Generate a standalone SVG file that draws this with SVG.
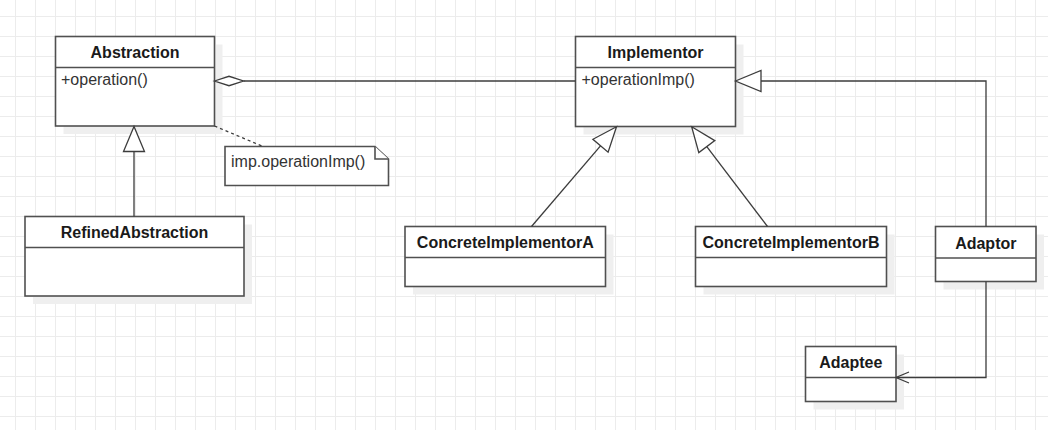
<svg xmlns="http://www.w3.org/2000/svg" width="1048" height="430" viewBox="0 0 1048 430">
<defs>
<pattern id="grid" patternUnits="userSpaceOnUse" x="15" y="16" width="20" height="20">
<path d="M0 0.5 H20 M0.5 0 V20" fill="none" stroke="#ececec" stroke-width="1"/>
</pattern>
<style>
.box{fill:#ffffff;stroke:#505050;stroke-width:1.6}
.shadow{fill:#efefef;stroke:none}
.sep{stroke:#505050;stroke-width:1.6}
.title{font-family:"Liberation Sans",Arial,sans-serif;font-size:16px;font-weight:bold;fill:#1a1a1a;text-anchor:middle}
.member{font-family:"Liberation Sans",Arial,sans-serif;font-size:16px;fill:#333333}
.edge{fill:none;stroke:#3c3c3c;stroke-width:1.3}
.head{fill:#ffffff;stroke:#3c3c3c;stroke-width:1.3}
</style>
</defs>
<rect width="1048" height="430" fill="#ffffff"/>
<rect width="1048" height="430" fill="url(#grid)"/>

<g id="node-abstraction">
<rect class="shadow" x="63.5" y="44.5" width="159" height="89.5"/>
<rect class="box" x="55.5" y="36.5" width="159" height="89.5"/>
<line class="sep" x1="55.5" y1="67.5" x2="214.5" y2="67.5"/>
<text class="title" x="135" y="58">Abstraction</text>
<text class="member" x="61" y="85">+operation()</text>
</g>

<g id="node-implementor">
<rect class="shadow" x="583.5" y="44.5" width="160" height="90"/>
<rect class="box" x="575.5" y="36.5" width="160" height="90"/>
<line class="sep" x1="575.5" y1="67.5" x2="735.5" y2="67.5"/>
<text class="title" x="655.5" y="58">Implementor</text>
<text class="member" x="581.5" y="85">+operationImp()</text>
</g>

<g id="node-refinedabstraction">
<rect class="shadow" x="33" y="224.5" width="219" height="79.5"/>
<rect class="box" x="25" y="216.5" width="219" height="79.5"/>
<line class="sep" x1="25" y1="247.5" x2="244" y2="247.5"/>
<text class="title" x="134.5" y="238">RefinedAbstraction</text>
</g>

<g id="node-concreteimplementora">
<rect class="shadow" x="413" y="234.5" width="200.5" height="60"/>
<rect class="box" x="405" y="226.5" width="200.5" height="60"/>
<line class="sep" x1="405" y1="257.5" x2="605.5" y2="257.5"/>
<text class="title" x="505.3" y="248">ConcreteImplementorA</text>
</g>

<g id="node-concreteimplementorb">
<rect class="shadow" x="703.5" y="234.5" width="191" height="60"/>
<rect class="box" x="695.5" y="226.5" width="191" height="60"/>
<line class="sep" x1="695.5" y1="257.5" x2="886.5" y2="257.5"/>
<text class="title" x="791" y="248">ConcreteImplementorB</text>
</g>

<g id="node-adaptor">
<rect class="shadow" x="943.5" y="234.5" width="100.5" height="55"/>
<rect class="box" x="935.5" y="226.5" width="100.5" height="55"/>
<line class="sep" x1="935.5" y1="258" x2="1036" y2="258"/>
<text class="title" x="985.8" y="248.5">Adaptor</text>
</g>

<g id="node-adaptee">
<rect class="shadow" x="813.5" y="354.5" width="90.5" height="55"/>
<rect class="box" x="805.5" y="346.5" width="90.5" height="55"/>
<line class="sep" x1="805.5" y1="377.5" x2="896" y2="377.5"/>
<text class="title" x="850.8" y="368">Adaptee</text>
</g>

<g id="node-note">
<path class="box" d="M225,146.5 H375 L388.5,159 V185.5 H225 Z"/>
<path class="box" d="M375,146.5 V159 H388.5" fill="none"/>
<text class="member" x="231" y="167">imp.operationImp()</text>
</g>

<g id="connectors">
<line class="edge" x1="243.5" y1="81" x2="575.5" y2="81"/>
<polygon class="head" points="214.5,81 229,76.3 243.5,81 229,85.7"/>

<line class="edge" x1="134" y1="216.5" x2="134" y2="151.5"/>
<polygon class="head" points="134,126.5 123.5,151.5 144.5,151.5"/>

<line class="edge" x1="531.5" y1="226.5" x2="600.5" y2="145.8"/>
<polygon class="head" points="616.5,126.8 592.9,139.3 608.1,152.2"/>

<line class="edge" x1="767.5" y1="226.5" x2="706.8" y2="146.6"/>
<polygon class="head" points="691.7,126.8 714.8,140.6 698.8,152.6"/>

<polyline class="edge" points="986,226.5 986,81 761,81"/>
<polygon class="head" points="735.5,81 761,70.5 761,91.5"/>

<polyline class="edge" points="986,281.5 986,377.5 896,377.5"/>
<polyline class="edge" points="909,372 896,377.5 909,383"/>

<line class="edge" x1="214.5" y1="126" x2="263" y2="146.5" stroke-dasharray="3 3"/>
</g>
</svg>
